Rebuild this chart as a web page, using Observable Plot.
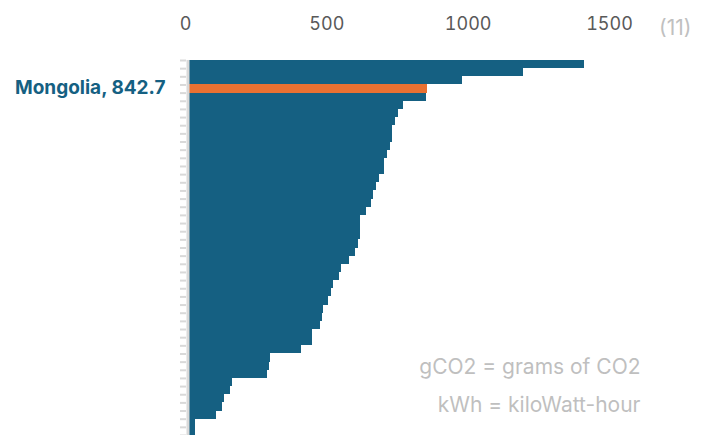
<!DOCTYPE html>
<html>
<head>
<meta charset="utf-8">
<script src="https://cdn.jsdelivr.net/npm/d3@7"></script>
<script src="https://cdn.jsdelivr.net/npm/@observablehq/plot@0.6"></script>
<style>
  body { margin: 0; background: #fff; }
  #chart svg { display: block; }
</style>
</head>
<body>
<div id="chart"></div>
<script>
// Carbon intensity of electricity (gCO2/kWh), countries ranked high to low
const intensity = [
  1398, 1180, 965, 842.7, 840, 758, 738, 729, 719, 717,
  710, 700, 691, 690, 672, 661, 652, 644, 625, 606,
  605, 604, 597, 587, 567, 539, 530, 511, 501, 492,
  473, 472, 463, 435, 434, 397, 285, 284, 276, 153,
  144, 125, 116, 97, 21, 20
];
const highlightName = "Mongolia";
const highlightRank = 3; // position of Mongolia in the ranking (0-based)
const xTicks = [0, 500, 1000, 1500];
const noteLines = ["gCO2 = grams of CO2", "kWh = kiloWatt-hour"];
const figureRef = "(11)";

const blue = "#156082";
const orange = "#E97132";
const font = "Inter, 'Open Sans', sans-serif";

const rows = intensity.map((v, i) => ({rank: i, value: v, hi: i === highlightRank}));
const hi = rows[highlightRank];
const n = rows.length;

const chart = Plot.plot({
  width: 705,
  height: 435,
  marginTop: 60,
  marginBottom: 0,
  marginLeft: 189,
  marginRight: 92,
  style: {fontFamily: font, background: "#fff"},
  x: {domain: [0, 1500], axis: null},
  y: {domain: [0, n], reverse: true, axis: null},
  marks: [
    Plot.rectX(rows, {
      x1: 0, x2: "value",
      y1: "rank", y2: d => d.rank + 1,
      inset: 0,
      fill: d => d.hi ? orange : blue,
      shapeRendering: "crispEdges"
    }),
    // category separators on the left axis
    Plot.axisY(d3.range(0, n + 1), {
      anchor: "left", tickSize: 6, tickFormat: () => "", label: null,
      stroke: "#d9d9d9", strokeWidth: 2, dx: -3
    }),
    Plot.ruleX([0], {stroke: "#d9d9d9", strokeWidth: 3, dx: -1.5}),
    Plot.axisX(xTicks, {
      anchor: "top", tickSize: 0, tickPadding: 31, label: null,
      tickFormat: d3.format("d"),
      fontSize: 18, fill: "#595959", dx: -4
    }),
    Plot.text([hi], {
      x: 0, y: d => d.rank + 0.5, dy: -1,
      text: d => `${highlightName}, ${d.value}`,
      textAnchor: "end", dx: -24, fontSize: 19, fontWeight: "bold", fill: blue
    }),
    Plot.text([figureRef], {
      frameAnchor: "top-right", dx: 78, dy: -40, textAnchor: "end",
      fontSize: 21, fill: "#c0c0c0"
    }),
    Plot.text([noteLines[0]], {
      frameAnchor: "bottom-right", dx: 27, dy: -62,
      textAnchor: "end", fontSize: 21, fill: "#bfbfbf"
    }),
    Plot.text([noteLines[1]], {
      frameAnchor: "bottom-right", dx: 27, dy: -24,
      textAnchor: "end", fontSize: 21, fill: "#bfbfbf"
    })
  ]
});
document.getElementById("chart").appendChild(chart);
</script>
</body>
</html>
